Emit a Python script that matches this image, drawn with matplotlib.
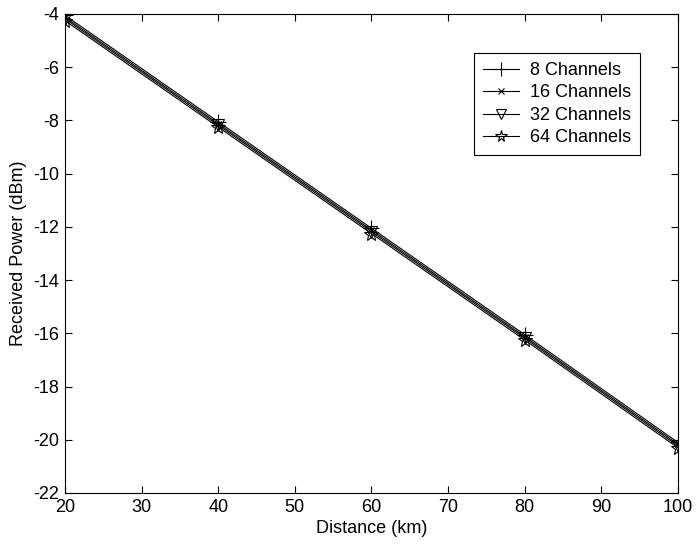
import matplotlib
matplotlib.use("Agg")
import matplotlib.pyplot as plt

plt.rcParams['font.family'] = ['Liberation Sans', 'DejaVu Sans']
plt.rcParams['axes.unicode_minus'] = False

distance = [20, 40, 60, 80, 100]
p8 = [-4.05, -8.05, -12.05, -16.05, -20.1]
p16 = [-4.12, -8.12, -12.12, -16.12, -20.17]
p32 = [-4.18, -8.18, -12.18, -16.18, -20.23]
p64 = [-4.25, -8.25, -12.25, -16.25, -20.3]
labels = ['8 Channels', '16 Channels', '32 Channels', '64 Channels']

fig = plt.figure(figsize=(6.96, 5.51), dpi=100)
ax = fig.add_axes([0.0934, 0.1053, 0.8806, 0.8693])

ax.plot(distance, p8, color='black', lw=0.8, marker='+', ms=12, mew=0.8, label=labels[0])
ax.plot(distance, p16, color='black', lw=0.8, marker='x', ms=5, mew=0.8, label=labels[1])
ax.plot(distance, p32, color='black', lw=0.8, marker='v', ms=9, mew=0.8, mfc='none', label=labels[2])
ax.plot(distance, p64, color='black', lw=0.8, marker='*', ms=10, mew=0.8, mfc='none', label=labels[3])

ax.set_xlim(20, 100)
ax.set_ylim(-22, -4)
ax.set_xticks(range(20, 101, 10))
ax.set_yticks(range(-22, -3, 2))
ax.tick_params(direction='in', top=True, right=True, labelsize=13, length=5, pad=4)
ax.set_xlabel('Distance (km)', fontsize=13, labelpad=3)
ax.set_ylabel('Received Power (dBm)', fontsize=13, labelpad=5)
leg = ax.legend(loc='upper right', bbox_to_anchor=(0.938, 0.9186), borderaxespad=0,
                fontsize=13, frameon=True, fancybox=False, edgecolor='black',
                framealpha=1, handlelength=2.0, borderpad=0.5, labelspacing=0.3,
                handletextpad=0.6, markerscale=0.85)
leg.get_frame().set_linewidth(0.8)

fig.savefig('out.png', dpi=100)
